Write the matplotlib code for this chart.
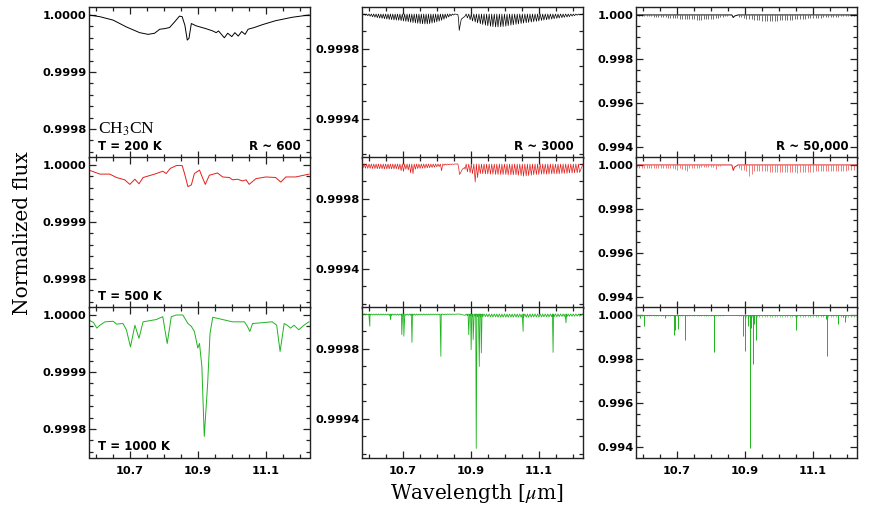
import numpy as np
import matplotlib
matplotlib.use("Agg")
import matplotlib.pyplot as plt
from matplotlib.ticker import FixedLocator, MultipleLocator, FormatStrFormatter

# ---------------- data ----------------
# R ~ 600 spectra (smooth), wavelength [um] and normalized flux
R600_T200_X = [10.580, 10.612, 10.651, 10.690, 10.729, 10.754, 10.773, 10.788, 10.802, 10.817,
               10.832, 10.846, 10.854, 10.862, 10.869, 10.874, 10.881, 10.895, 10.924, 10.944,
               10.954, 10.961, 10.978, 10.988, 11.000, 11.009, 11.019, 11.029, 11.039, 11.048,
               11.066, 11.090, 11.129, 11.178, 11.227]
R600_T200_F = [1.000000, 0.999997, 0.999991, 0.999979, 0.999969, 0.999966, 0.999968, 0.999975, 0.999976, 0.999978,
               0.999988, 0.999998, 0.999997, 0.999982, 0.999956, 0.999959, 0.999985, 0.999981, 0.999976, 0.999972,
               0.999969, 0.999972, 0.999960, 0.999968, 0.999962, 0.999969, 0.999963, 0.999971, 0.999966, 0.999975,
               0.999978, 0.999983, 0.999990, 0.999996, 1.000000]

R600_T500_X = [10.580, 10.612, 10.641, 10.661, 10.685, 10.700, 10.715, 10.727, 10.739, 10.773,
               10.797, 10.807, 10.819, 10.837, 10.854, 10.861, 10.871, 10.881, 10.890, 10.905,
               10.915, 10.922, 10.934, 10.958, 10.973, 10.993, 11.002, 11.017, 11.032, 11.042,
               11.051, 11.071, 11.100, 11.129, 11.144, 11.159, 11.188, 11.227]
R600_T500_F = [0.999991, 0.999984, 0.999984, 0.999978, 0.999974, 0.999966, 0.999975, 0.999967, 0.999978, 0.999984,
               0.999989, 0.999985, 0.999994, 0.999999, 0.999999, 0.999985, 0.999962, 0.999965, 0.999985, 0.999991,
               0.999976, 0.999966, 0.999982, 0.999986, 0.999979, 0.999978, 0.999974, 0.999975, 0.999972, 0.999974,
               0.999966, 0.999976, 0.999979, 0.999978, 0.999970, 0.999979, 0.999979, 0.999984]

R600_T1000_X = [10.580, 10.593, 10.603, 10.612, 10.627, 10.651, 10.661, 10.680, 10.690, 10.702,
                10.715, 10.727, 10.739, 10.778, 10.797, 10.810, 10.822, 10.837, 10.856, 10.871,
                10.881, 10.890, 10.900, 10.905, 10.912, 10.919, 10.929, 10.936, 10.944, 10.973,
                11.002, 11.037, 11.046, 11.053, 11.061, 11.119, 11.132, 11.142, 11.154, 11.163,
                11.173, 11.183, 11.197, 11.212, 11.227]
R600_T1000_F = [0.999991, 0.999987, 0.999977, 0.999982, 0.999988, 0.999989, 0.999984, 0.999985, 0.999974, 0.999944,
                0.999982, 0.999959, 0.999988, 0.999992, 0.999997, 0.999950, 0.999997, 1.000000, 1.000000, 0.999985,
                0.999980, 0.999971, 0.999942, 0.999950, 0.999909, 0.999787, 0.999880, 0.999968, 0.999996, 0.999992,
                0.999988, 0.999988, 0.999980, 0.999971, 0.999985, 0.999988, 0.999982, 0.999936, 0.999985, 0.999982,
                0.999977, 0.999982, 0.999974, 0.999982, 0.999988]

# ro-vibrational comb line positions [um] (short- and long-wavelength branches)
COMB_LEFT = [10.583, 10.590, 10.597, 10.604, 10.611, 10.618, 10.625, 10.632, 10.639, 10.646,
             10.653, 10.660, 10.667, 10.674, 10.681, 10.688, 10.695, 10.702, 10.709, 10.716,
             10.723, 10.730, 10.737, 10.744, 10.751, 10.758, 10.765, 10.772, 10.779, 10.786,
             10.793, 10.800, 10.807, 10.814, 10.821, 10.828, 10.835, 10.842, 10.849]
COMB_RIGHT = [10.883, 10.890, 10.898, 10.905, 10.913, 10.920, 10.928, 10.935, 10.943, 10.950,
              10.958, 10.965, 10.973, 10.980, 10.988, 10.995, 11.003, 11.010, 11.018, 11.025,
              11.033, 11.040, 11.048, 11.055, 11.063, 11.070, 11.078, 11.085, 11.093, 11.100,
              11.108, 11.115, 11.123, 11.130, 11.138, 11.145, 11.153, 11.160, 11.168, 11.175,
              11.183, 11.190, 11.198, 11.205, 11.213, 11.220]

# R ~ 3000 : comb trough depths [ppm]
R3000_T200_DL = [4, 7, 10, 13, 16, 18, 21, 23, 25, 27, 29, 31, 32, 34, 35, 36, 38, 40, 42, 44,
                 47, 49, 51, 53, 55, 56, 57, 57, 55, 52, 49, 45, 41, 36, 30, 24, 17, 11, 6]
R3000_T200_DR = [12, 22, 32, 40, 46, 51, 56, 60, 64, 67, 70, 72, 74, 74, 73, 72, 70, 67, 64, 62,
                 59, 57, 54, 52, 50, 48, 46, 44, 42, 40, 37, 35, 33, 31, 29, 27, 25, 23, 21, 19,
                 17, 15, 12, 10, 7, 5]
R3000_T200_QX = [10.853, 10.862, 10.864, 10.866, 10.868, 10.872, 10.878, 10.882]
R3000_T200_QF = [1.000000, 0.999997, 0.999970, 0.999906, 0.999930, 0.999970, 0.999980, 0.999985]

R3000_T500_DL = [22, 24, 25, 25, 26, 26, 27, 27, 27, 28, 28, 28, 28, 28, 27, 30, 38, 42, 30, 34,
                 50, 55, 30, 26, 25, 24, 24, 22, 21, 20, 18, 16, 15, 38, 8, 6, 4, 3, 2]
R3000_T500_DR = [30, 45, 50, 55, 103, 78, 55, 55, 57, 57, 58, 58, 60, 60, 60, 60, 60, 62, 62, 62,
                 62, 64, 66, 70, 68, 66, 64, 62, 60, 60, 58, 58, 58, 58, 56, 56, 56, 56, 54, 54,
                 54, 52, 52, 50, 50, 48]
R3000_T500_QX = [10.853, 10.862, 10.865, 10.867, 10.870, 10.875, 10.882]
R3000_T500_QF = [1.000000, 1.000000, 0.999970, 0.999940, 0.999950, 0.999970, 0.999980]

R3000_T1000_DL = [5, 5, 5, 5, 6, 6, 6, 6, 6, 6, 6, 7, 7, 7, 7, 7, 7, 7, 7, 7,
                  7, 7, 7, 7, 6, 6, 6, 6, 6, 5, 5, 5, 5, 4, 4, 4, 3, 3, 2]
R3000_T1000_DR = [8, 10, 10, 12, 12, 14, 14, 15, 15, 16, 16, 17, 17, 18, 18, 18, 18, 18, 18, 18,
                  18, 18, 18, 18, 18, 18, 18, 17, 17, 17, 17, 16, 16, 16, 16, 15, 15, 15, 14, 14,
                  14, 13, 13, 12, 12, 12]
STRONG3000_X = [10.603, 10.664, 10.697, 10.703, 10.727, 10.812, 10.894, 10.901, 10.907, 10.916,
                10.925, 10.931, 11.054, 11.142, 11.180]
STRONG3000_D = [70, 32, 118, 127, 162, 242, 118, 204, 146, 768, 300, 222, 99, 219, 50]

# R ~ 50,000 : stick depths [ppm]
R50K_T200_DL = [20, 28, 36, 44, 52, 60, 68, 76, 84, 92, 100, 108, 116, 124, 132, 140, 148, 156, 164, 172,
                180, 186, 192, 198, 204, 208, 210, 210, 206, 200, 194, 186, 178, 160, 140, 115, 90, 65, 40]
R50K_T200_DR = [75, 110, 140, 165, 185, 205, 220, 235, 248, 258, 265, 270, 270, 268, 264, 258, 250, 242, 234, 226,
                218, 210, 200, 192, 184, 176, 168, 160, 152, 144, 136, 128, 120, 112, 105, 98, 92, 86, 80, 74,
                68, 62, 56, 50, 47, 45]
R50K_T200_QX = [10.580, 10.862, 10.866, 10.870, 10.876, 10.880, 11.230]
R50K_T200_QF = [1.00000, 1.00000, 0.99988, 0.99995, 0.99998, 1.00000, 1.00000]

R50K_T500_DL = [110, 120, 125, 125, 130, 130, 135, 135, 135, 140, 140, 140, 140, 140, 135, 150, 190, 210, 150, 170,
                250, 275, 150, 130, 125, 120, 120, 110, 105, 100, 90, 80, 75, 190, 40, 30, 20, 15, 10]
R50K_T500_DR = [150, 225, 250, 275, 500, 390, 275, 275, 285, 285, 290, 290, 300, 300, 300, 300, 300, 310, 310, 310,
                310, 320, 330, 350, 340, 330, 320, 310, 300, 300, 290, 290, 290, 290, 280, 280, 280, 280, 270, 270,
                270, 260, 260, 250, 250, 240]
R50K_T500_QX = [10.580, 10.862, 10.866, 10.870, 10.876, 10.880, 11.230]
R50K_T500_QF = [1.00000, 1.00000, 0.99975, 0.99990, 0.99996, 1.00000, 1.00000]

R50K_T1000_DL = [40, 40, 40, 45, 45, 45, 45, 50, 50, 50, 50, 50, 50, 50, 50, 50, 50, 50, 50, 50,
                 50, 50, 50, 50, 45, 45, 45, 45, 40, 40, 40, 40, 35, 35, 35, 30, 30, 25, 20]
R50K_T1000_DR = [60, 70, 70, 80, 80, 90, 90, 95, 95, 100, 100, 105, 105, 110, 110, 110, 110, 110, 110, 110,
                 110, 110, 110, 110, 110, 110, 110, 105, 105, 105, 105, 100, 100, 100, 100, 95, 95, 95, 90, 90,
                 90, 85, 85, 80, 80, 80]
STRONG50K_X = [10.591, 10.603, 10.664, 10.691, 10.696, 10.703, 10.725, 10.810, 10.894, 10.901,
               10.909, 10.915, 10.917, 10.923, 10.927, 10.933, 11.052, 11.138, 11.141, 11.174,
               11.190, 11.195]
STRONG50K_D = [120, 500, 150, 920, 700, 660, 1160, 1700, 960, 1650,
               500, 6050, 580, 2230, 400, 1160, 690, 200, 1880, 400,
               100, 300]

X_TICKS = [10.7, 10.9, 11.1]
Y_TICKS = [[0.9998, 0.9999, 1.0000], [0.9994, 0.9998], [0.994, 0.996, 0.998, 1.000]]
Y_LIMS = [(0.99975, 1.000014), (0.99918, 1.00004), (0.99353, 1.00036)]
Y_MINOR = [0.00002, 0.0001, 0.0005]
Y_FMT = ['%.4f', '%.4f', '%.3f']
T_LABELS = ['T = 200 K', 'T = 500 K', 'T = 1000 K']
R_LABELS = ['R ~ 600', 'R ~ 3000', 'R ~ 50,000']
COLORS = ['black', '#e0201c', '#1fb41f']


# ---------------- helpers ----------------
def zigzag(pos, depth_ppm, base=1.0):
    pos = np.asarray(pos, float)
    d = np.asarray(depth_ppm, float) * 1e-6
    o = np.argsort(pos)
    pos, d = pos[o], d[o]
    xs, ys = [], []
    for i in range(len(pos)):
        if i > 0:
            xs.append(0.5 * (pos[i - 1] + pos[i]))
            ys.append(base)
        xs.append(pos[i])
        ys.append(base - d[i])
    return np.array(xs), np.array(ys)


plt.rcParams['mathtext.fontset'] = 'stix'
plt.rcParams['font.family'] = 'DejaVu Sans'

fig = plt.figure(figsize=(8.72, 5.08), dpi=100)
W, H = 872.0, 508.0
col_left = [89, 362, 636]
row_top = [7, 157, 307]
pw, ph = 221, 150.5

axes = [[None] * 3 for _ in range(3)]
for r in range(3):
    for c in range(3):
        ax = fig.add_axes([col_left[c] / W, 1 - (row_top[r] + ph) / H, pw / W, ph / H])
        axes[r][c] = ax
        ax.set_xlim(10.58, 11.23)
        ax.set_ylim(*Y_LIMS[c])
        ax.xaxis.set_major_locator(FixedLocator(X_TICKS))
        ax.xaxis.set_minor_locator(MultipleLocator(0.05))
        ax.yaxis.set_major_locator(FixedLocator(Y_TICKS[c]))
        ax.yaxis.set_minor_locator(MultipleLocator(Y_MINOR[c]))
        ax.yaxis.set_major_formatter(FormatStrFormatter(Y_FMT[c]))
        ax.xaxis.set_major_formatter(FormatStrFormatter('%.1f'))
        ax.tick_params(which='both', direction='in', top=True, right=True, width=0.9, color='#222222')
        ax.tick_params(which='major', length=5)
        ax.tick_params(which='minor', length=2.6)
        ax.tick_params(axis='y', pad=1.5)
        ax.tick_params(axis='x', pad=6)
        for lab in ax.get_yticklabels() + ax.get_xticklabels():
            lab.set_fontweight('bold')
            lab.set_fontsize(8.2)
        if r < 2:
            ax.tick_params(labelbottom=False)
        for s in ax.spines.values():
            s.set_linewidth(1.0)
            s.set_color('#222222')

lw = 0.7
# column 1: R ~ 600
axes[0][0].plot(R600_T200_X, R600_T200_F, color=COLORS[0], lw=lw)
axes[1][0].plot(R600_T500_X, R600_T500_F, color=COLORS[1], lw=lw)
axes[2][0].plot(R600_T1000_X, R600_T1000_F, color=COLORS[2], lw=lw)

# column 2: R ~ 3000
for r, (dl, dr, qx, qf) in enumerate([(R3000_T200_DL, R3000_T200_DR, R3000_T200_QX, R3000_T200_QF),
                                      (R3000_T500_DL, R3000_T500_DR, R3000_T500_QX, R3000_T500_QF)]):
    xl, yl = zigzag(COMB_LEFT, dl)
    xr, yr = zigzag(COMB_RIGHT, dr)
    xs = np.concatenate([[10.58], xl, qx, xr, [11.23]])
    ys = np.concatenate([[1.0], yl, qf, yr, [1.0]])
    axes[r][1].plot(xs, ys, color=COLORS[r], lw=0.5)

gx, gy = zigzag(COMB_LEFT + COMB_RIGHT + STRONG3000_X,
                R3000_T1000_DL + R3000_T1000_DR + STRONG3000_D)
axes[2][1].plot(np.concatenate([[10.58], gx, [11.23]]), np.concatenate([[1.0], gy, [1.0]]),
                color=COLORS[2], lw=0.6)

# column 3: R ~ 50,000 (stick spectra)
comb = np.array(COMB_LEFT + COMB_RIGHT)
for r, (dl, dr, qx, qf) in enumerate([(R50K_T200_DL, R50K_T200_DR, R50K_T200_QX, R50K_T200_QF),
                                      (R50K_T500_DL, R50K_T500_DR, R50K_T500_QX, R50K_T500_QF)]):
    d = np.array(dl + dr) * 1e-6
    axes[r][2].vlines(comb, 1.0 - d, 1.0, color=COLORS[r], lw=0.5, alpha=0.8)
    axes[r][2].plot(qx, qf, color=COLORS[r], lw=0.7)

d3 = np.array(R50K_T1000_DL + R50K_T1000_DR) * 1e-6
axes[2][2].vlines(comb, 1.0 - d3, 1.0, color=COLORS[2], lw=0.5, alpha=0.8)
axes[2][2].vlines(STRONG50K_X, 1.0 - np.array(STRONG50K_D) * 1e-6, 1.0, color=COLORS[2], lw=0.7)
axes[2][2].plot([10.58, 11.23], [1.0, 1.0], color=COLORS[2], lw=0.7)

# labels
for r in range(3):
    axes[r][0].text(0.041, 0.048, T_LABELS[r], transform=axes[r][0].transAxes,
                    fontsize=8.5, fontweight='bold', ha='left', va='baseline')
for c in range(3):
    axes[0][c].text(0.96, 0.048, R_LABELS[c], transform=axes[0][c].transAxes,
                    fontsize=8.5, fontweight='bold', ha='right', va='baseline')
axes[0][0].text(0.041, 0.162, r'CH$_3$CN', transform=axes[0][0].transAxes,
                fontsize=12.5, family='Liberation Serif', ha='left', va='baseline')

fig.text(0.026, 0.541, 'Normalized flux', rotation=90, ha='center', va='center',
         fontsize=14.5, family='DejaVu Serif')
fig.text(0.547, 0.028, r'Wavelength [$\mu$m]', ha='center', va='center',
         fontsize=14.5, family='DejaVu Serif')

fig.savefig('out.png', dpi=100)
